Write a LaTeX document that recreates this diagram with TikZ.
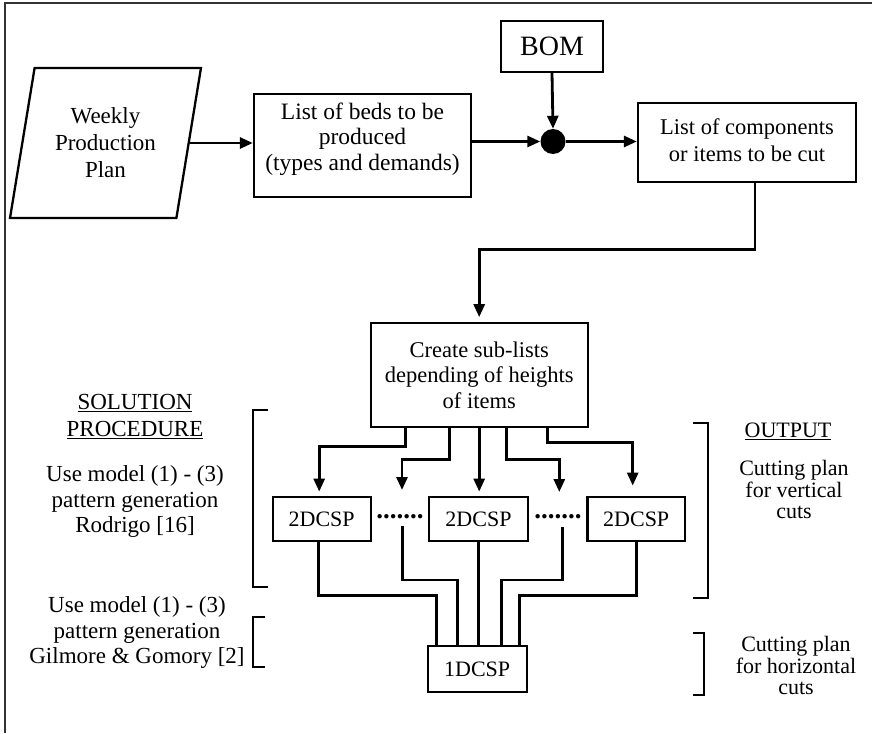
\documentclass[tikz,border=0pt]{standalone}
\usepackage{fontspec}
\setmainfont{Liberation Serif}
\usetikzlibrary{arrows.meta,shapes.geometric,calc}
\begin{document}
\begin{tikzpicture}[x=1pt,y=-1pt,
  box/.style={draw,line width=2.3pt,align=center,inner sep=0pt,font=\fontsize{22.5}{25.5}\selectfont},
  smallbox/.style={draw,line width=2.3pt,align=center,inner sep=0pt,font=\fontsize{22}{24}\selectfont},
  arr/.style={-{Triangle[length=13pt,width=11pt]},line width=2.8pt},
  conn/.style={line width=2.8pt},
  brk/.style={line width=2pt},
  lbl/.style={align=center,inner sep=0pt,font=\fontsize{23}{25.5}\selectfont},
  rlbl/.style={align=center,inner sep=0pt,font=\fontsize{22}{21.5}\selectfont},
  dotsnode/.style={inner sep=0pt,font=\fontsize{27}{27}\selectfont\bfseries}]
\useasboundingbox (0,0) rectangle (872,733);
% frame
\draw[line width=1.6pt,black!80] (5,733) -- (5,3) -- (872,3);
% nodes
\node[draw,line width=2.3pt,trapezium,trapezium left angle=76,trapezium right angle=104,
  trapezium stretches=true,minimum width=191pt,minimum height=150pt,inner sep=0pt,
  align=center,font=\fontsize{23}{27}\selectfont] (wpp) at (105.5,143) {Weekly\\Production\\Plan};
\node[box,minimum width=217pt,minimum height=103pt] (box1) at (362.5,145.5) {};
\node[lbl,font=\fontsize{23.5}{25.5}\selectfont] (box1t) at (362.5,139) {List of beds to be\\produced\\(types and demands)};
\node[box,minimum width=102pt,minimum height=51pt,font=\fontsize{28}{30}\selectfont] (bom) at (552,46.2) {BOM};
\node[circle,fill=black,inner sep=0pt,minimum size=25pt] (jn) at (553,141.5) {};
\node[box,minimum width=218pt,minimum height=79pt] (box3) at (747,142.2) {};
\node[lbl,font=\fontsize{22.5}{27}\selectfont] (box3t) at (747,140) {List of components\\or items to be cut};
\node[box,minimum width=217pt,minimum height=103.4pt] (create) at (479.2,375) {Create sub-lists\\depending of heights\\of items};
\node[smallbox,minimum width=98pt,minimum height=44.3pt] (s1) at (321.7,518.9) {2DCSP};
\node[smallbox,minimum width=98.4pt,minimum height=44.3pt] (s2) at (478.5,518.9) {2DCSP};
\node[smallbox,minimum width=97.7pt,minimum height=44.3pt] (s3) at (636.2,518.9) {2DCSP};
\node[smallbox,minimum width=99pt,minimum height=45.7pt] (one) at (477.2,668.9) {1DCSP};
\node[dotsnode] (d1) at (400,517) {.......};
\node[dotsnode] (d2) at (558,517) {.......};
% free ends
\coordinate (c2) at (402,490);
\coordinate (c4) at (559.3,492);
\coordinate (c2b) at (402.7,526);
\coordinate (c4b) at (562.7,527);
% top row arrows
\draw[arr] (wpp.east) -- (wpp.east -| box1.west);
\draw[arr] (box1.east |- jn.west) -- (jn.west);
\draw[arr] (bom.south) -- (jn.north);
\draw[arr] (jn.east) -- (jn.east -| box3.west);
\draw[arr] ($(box3.south)+(8,0)$) |- ($(create.north)+(0,-73)$) -- ($(create.north)+(0,-5)$);
% create -> 2DCSP row
\draw[arr] ($(create.south)+(-73.5,0)$) -- ++(0,19) -| ($(s1.north)+(-2.5,-4)$);
\draw[arr] ($(create.south)+(-30,0)$) -- ++(0,31.6) -| (c2);
\draw[arr] (create.south) -- ($(create.south |- s2.north)+(0,-4)$);
\draw[arr] ($(create.south)+(27.5,0)$) -- ++(0,31.6) -| (c4);
\draw[arr] ($(create.south)+(68.5,0)$) -- ++(0,14.3) -| ($(s3.north)+(-3.5,-10)$);
% 2DCSP row -> 1DCSP
\draw[conn] ($(s1.south)+(-3.4,0)$) -- ++(0,53.3) -| ($(one.north)+(-40.5,0)$);
\draw[conn] (c2b) -- (402.7,580) -| ($(one.north)+(-19.5,0)$);
\draw[line width=3.6pt] (s2.south) -- (s2.south |- one.north);
\draw[conn] (c4b) -- (562.7,580) -| ($(one.north)+(24.5,0)$);
\draw[conn] ($(s3.south)+(0.5,0)$) -- ++(0,53.3) -| ($(one.north)+(42,0)$);
% brackets
\draw[brk] (268,410) -- (253.3,410) -- (253.3,587.3) -- (268,587.3);
\draw[brk] (265,617.3) -- (253.3,617.3) -- (253.3,666.7) -- (265,666.7);
\draw[brk] (693.3,422.7) -- (708.3,422.7) -- (708.3,598.3) -- (693.3,598.3);
\draw[brk] (693.3,633.3) -- (704.3,633.3) -- (704.3,695) -- (693.3,695);
% side labels
\node[lbl,font=\fontsize{23}{27}\selectfont] (sol) at (135,416.5) {\underline{SOLUTION}\\\underline{PROCEDURE}};
\node[lbl] (m1) at (135,501.7) {Use model (1) - (3)\\pattern generation\\Rodrigo [16]};
\node[lbl] (m2) at (137,632.5) {Use model (1) - (3)\\pattern generation\\Gilmore \& Gomory [2]};
\node[rlbl] (out) at (788,431.7) {\underline{OUTPUT}};
\node[rlbl] (o1) at (794,489.5) {Cutting plan\\for vertical\\cuts};
\node[rlbl] (o2) at (796,665.5) {Cutting plan\\for horizontal\\cuts};
\end{tikzpicture}
\end{document}
